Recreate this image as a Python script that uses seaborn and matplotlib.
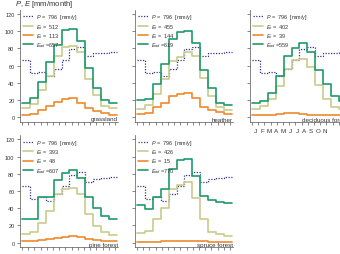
import numpy as np
import pandas as pd
import matplotlib
matplotlib.use("Agg")
import matplotlib.pyplot as plt
import seaborn as sns

# monthly values [mm/month]
months = ["J", "F", "M", "A", "M", "J", "J", "A", "S", "O", "N"]
precip = [66, 51, 53, 48, 56, 66, 79, 82, 71, 74, 75, 76]

sites = ["grassland", "heather", "deciduous forest", "pine forest", "spruce forest"]
totals_p = [796, 796, 796, 796, 796]
totals_et = [512, 455, 402, 393, 426]
totals_ei = [113, 144, 39, 48, 15]
totals_ead = [657, 619, 559, 607, 770]

et_grass = [11, 15, 31, 48, 71, 81, 83, 76, 44, 26, 13, 11]
ei_grass = [3, 4, 8, 13, 18, 21, 22, 17, 11, 7, 5, 3]
ead_grass = [17, 22, 41, 64, 84, 101, 102, 88, 57, 34, 20, 16]

et_heather = [10, 14, 27, 44, 65, 70, 76, 71, 46, 25, 12, 8]
ei_heather = [4, 5, 12, 17, 25, 27, 28, 22, 12, 8, 6, 4]
ead_heather = [20, 21, 39, 62, 91, 99, 100, 86, 55, 34, 17, 14]

et_decid = [10, 13, 21, 36, 56, 66, 68, 58, 37, 21, 12, 9]
ei_decid = [2, 2, 3, 4, 5, 5, 4, 3, 2, 2, 2, 2]
ead_decid = [17, 19, 28, 48, 71, 80, 86, 76, 55, 38, 25, 19]

et_pine = [10, 12, 23, 37, 56, 62, 64, 56, 33, 19, 12, 9]
ei_pine = [1.5, 2, 3, 4, 6, 7, 7.5, 6.5, 4, 3, 2, 1.5]
ead_pine = [28, 27, 53, 53, 73, 81, 84, 75, 53, 40, 31, 28]

et_spruce = [11, 14, 27, 40, 62, 67, 70, 52, 27, 12, 10, 8]
ei_spruce = [1, 1, 1, 1.5, 2, 2, 2, 2, 1.5, 1, 1, 1]
ead_spruce = [44, 39, 53, 62, 85, 96, 97, 77, 54, 50, 47, 46]

et_all = [et_grass, et_heather, et_decid, et_pine, et_spruce]
ei_all = [ei_grass, ei_heather, ei_decid, ei_pine, ei_spruce]
ead_all = [ead_grass, ead_heather, ead_decid, ead_pine, ead_spruce]

C_P = "#33338f"
C_ET = "#c8cc8c"
C_EI = "#ee8a2c"
C_EAD = "#1f9a68"

sns.set_theme(style="ticks")
plt.rcParams["font.family"] = ["Liberation Sans", "DejaVu Sans"]
plt.rcParams["mathtext.fontset"] = "custom"
plt.rcParams["mathtext.it"] = "Liberation Sans:italic"
plt.rcParams["mathtext.rm"] = "Liberation Sans"

fig = plt.figure(figsize=(3.4, 2.55), dpi=100)

lefts = [20 / 340, 135 / 340, 250 / 340]
bottoms = [1 - 122.5 / 255, 1 - 248 / 255]
w = 98 / 340
h = 112 / 255

edges = np.arange(13)


def step_df(vals):
    return pd.DataFrame({"x": edges, "y": list(vals) + [vals[-1]]})


for i, site in enumerate(sites):
    r, c = divmod(i, 3)
    ax = fig.add_axes([lefts[c], bottoms[r], w, h])

    sns.lineplot(data=step_df(precip), x="x", y="y", ax=ax, color=C_P,
                 linestyle=(0, (1, 1.2)), lw=0.9, drawstyle="steps-post",
                 label=r"$P$ =  %d  [mm/y]" % totals_p[i])
    sns.lineplot(data=step_df(et_all[i]), x="x", y="y", ax=ax, color=C_ET,
                 lw=1.2, drawstyle="steps-post",
                 label=r"$E_t$ =  %d" % totals_et[i])
    sns.lineplot(data=step_df(ei_all[i]), x="x", y="y", ax=ax, color=C_EI,
                 lw=1.2, drawstyle="steps-post",
                 label=r"$E_i$ =  %d" % totals_ei[i])
    sns.lineplot(data=step_df(ead_all[i]), x="x", y="y", ax=ax, color=C_EAD,
                 lw=1.2, drawstyle="steps-post",
                 label=r"$E_{ad}$ =%d" % totals_ead[i])

    ax.set_xlim(-0.25, 12.13)
    ax.set_ylim(-5, 125)
    ax.set_xlabel("")
    ax.set_ylabel("")
    sns.despine(ax=ax)
    for s in ["left", "bottom"]:
        ax.spines[s].set_linewidth(0.5)
        ax.spines[s].set_color("#555555")

    ax.set_yticks(np.arange(0, 121, 20))
    ax.set_xticks(np.linspace(0, 11.75, 16), minor=True)
    ax.tick_params(axis="x", which="minor", length=2.5, width=0.5, color="#555555")
    ax.tick_params(axis="y", length=2.5, width=0.5, color="#555555",
                   labelsize=4, labelcolor="#333333", pad=1.5)
    if c != 0:
        ax.set_yticklabels([])
    if i == 2:
        # month letters only under the top-right panel
        ax.set_xticks(np.linspace(0.47, 9.2, 11))
        ax.set_xticklabels(months)
        ax.tick_params(axis="x", which="major", length=0, labelsize=4.5,
                       labelcolor="#333333", pad=4.5)
    else:
        ax.set_xticks([])

    leg = ax.legend(loc="upper left", frameon=False, fontsize=4,
                    handlelength=1.9, handletextpad=0.4, labelspacing=0.08,
                    borderaxespad=0.1, bbox_to_anchor=(0.0, 1.0))
    for t in leg.get_texts():
        t.set_color("#333333")

    ax.text(1.0, 0.0, site, transform=ax.transAxes, ha="right", va="bottom",
            fontsize=4.5, color="#333333", clip_on=False)

fig.text(15 / 340, 1 - 5 / 255, r"$P$, $E$ [mm/month]", ha="left", va="center",
         fontsize=5.5, color="#333333")

fig.savefig("out.png", dpi=100)
